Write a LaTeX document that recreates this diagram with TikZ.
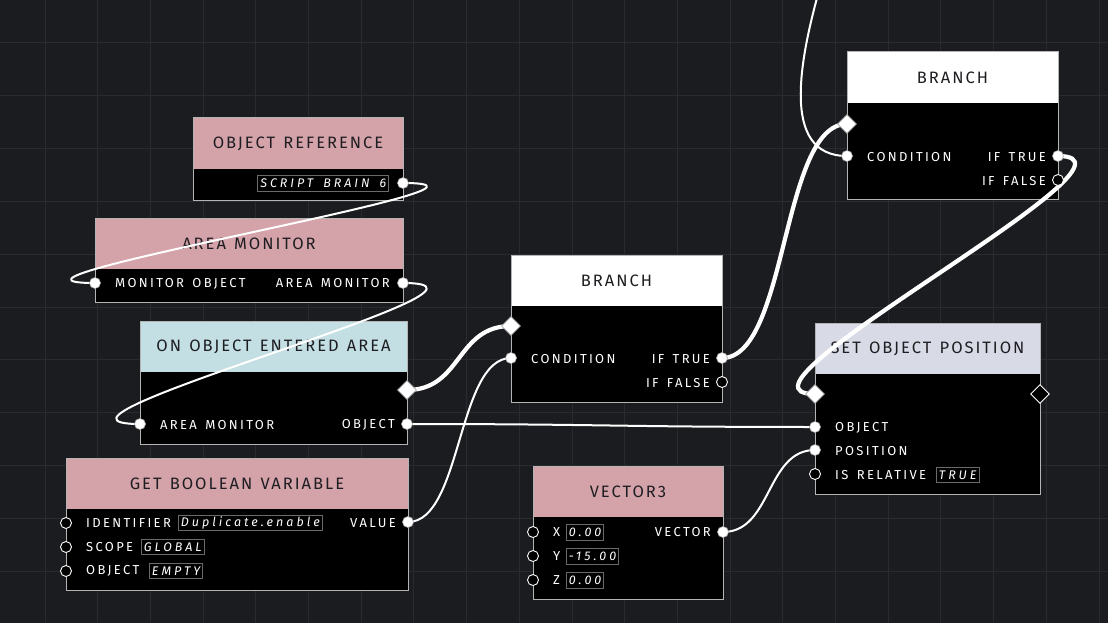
\documentclass[tikz,border=0pt]{standalone}
\usepackage{fontspec}
\setmainfont{Fira Sans}
\newfontfamily\titlefont{Fira Sans}[LetterSpace=12,WordSpace=1.3]
\newfontfamily\lblfont{Fira Sans}[LetterSpace=18,WordSpace=1.45]
\newfontfamily\valfont{Fira Sans Italic}[LetterSpace=24,WordSpace=1.6]
\usetikzlibrary{shapes.geometric}
\pgfdeclarelayer{boxes}
\pgfdeclarelayer{ports}
\pgfsetlayers{boxes,main,ports}
\definecolor{bgc}{HTML}{1B1C1F}
\definecolor{gridc}{HTML}{2A2B2F}
\definecolor{pinkh}{HTML}{D4A2A9}
\definecolor{blueh}{HTML}{C3DFE3}
\definecolor{lavh}{HTML}{D8DBE6}
\definecolor{framec}{HTML}{B4B4B4}
\definecolor{titlec}{HTML}{1E1E22}
\definecolor{valframe}{HTML}{6A6A6A}
\tikzset{
  body/.style={fill=black, anchor=north west, inner sep=0, outer sep=0},
  hdr/.style={fill=#1, anchor=north west, inner sep=0, outer sep=0, minimum height=51, text=titlec, font=\titlefont\fontsize{16.5}{16.5}\selectfont},
  frm/.style={draw=framec, line width=1},
  pinport/.style={circle, fill=white, draw=gray!70, line width=0.6, minimum size=11, inner sep=0},
  openport/.style={circle, fill=black, draw=white, line width=0.9, minimum size=11, inner sep=0},
  execin/.style={diamond, fill=white, draw=gray!70, line width=0.6, minimum size=19, inner sep=0},
  execopen/.style={diamond, fill=black, draw=white, line width=0.9, minimum size=19, inner sep=0},
  lbl/.style={text=white, font=\lblfont\fontsize{13}{13}\selectfont, inner sep=0},
  val/.style={draw=valframe, line width=0.8, text=white, font=\valfont\fontsize{12.5}{12.5}\selectfont, inner xsep=2.5, inner ysep=1.5, minimum height=15.5, anchor=west},
  wire/.style={white, line width=2},
  flow/.style={white, line width=4.2},
}
\begin{document}
\begin{tikzpicture}[x=1pt,y=-1pt]
\useasboundingbox (0,0) rectangle (1108,623);
\begin{pgfonlayer}{boxes}
\fill[bgc] (0,0) rectangle (1108,623);
\foreach \i in {0,...,20} {\draw[gridc, line width=1] (45+52.7*\i,0) -- (45+52.7*\i,623);}
\foreach \j in {0,...,11} {\draw[gridc, line width=1] (0,43+52.8*\j) -- (1108,43+52.8*\j);}
% Object reference
\node[body, minimum width=210, minimum height=82] (or) at (193,118) {};
\node[hdr=pinkh, minimum width=210] (orh) at (193,118) {OBJECT REFERENCE};
\draw[frm] (or.north west) rectangle (or.south east);
% Area monitor
\node[body, minimum width=308, minimum height=84] (am) at (95,218) {};
\node[hdr=pinkh, minimum width=308] (amh) at (95,218) {AREA MONITOR};
\draw[frm] (am.north west) rectangle (am.south east);
% On object entered area
\node[body, minimum width=267, minimum height=123] (oe) at (140,321) {};
\node[hdr=blueh, minimum width=267] (oeh) at (140,321) {ON OBJECT ENTERED AREA};
\draw[frm] (oe.north west) rectangle (oe.south east);
% Get boolean variable
\node[body, minimum width=342, minimum height=132] (gb) at (66,458) {};
\node[hdr=pinkh, minimum width=342] (gbh) at (66,458) {GET BOOLEAN VARIABLE};
\draw[frm] (gb.north west) rectangle (gb.south east);
% Branch 1
\node[body, minimum width=211, minimum height=147] (ba) at (511,255) {};
\node[hdr=white, minimum width=211] (bah) at (511,255) {BRANCH};
\draw[frm] (ba.north west) rectangle (ba.south east);
% Vector3
\node[body, minimum width=190, minimum height=133] (ve) at (533,466) {};
\node[hdr=pinkh, minimum width=190] (veh) at (533,466) {VECTOR3};
\draw[frm] (ve.north west) rectangle (ve.south east);
% Branch 2
\node[body, minimum width=211, minimum height=147] (bb) at (847,52) {};
\node[hdr=white, minimum width=211] (bbh) at (847,52) {BRANCH};
\draw[frm] (bb.north west) rectangle (bb.south east);
% Set object position
\node[body, minimum width=225, minimum height=171] (sp) at (815,323) {};
\node[hdr=lavh, minimum width=225] (sph) at (815,323) {SET OBJECT POSITION};
\draw[frm] (sp.north west) rectangle (sp.south east);

% labels
\node[val, anchor=east] (orv) at (389,183.5) {SCRIPT BRAIN 6};
\node[lbl, anchor=west] (amin) at (115,283.5) {MONITOR OBJECT};
\node[lbl, anchor=east] (amout) at (390,283.5) {AREA MONITOR};
\node[lbl, anchor=west] (oein) at (160,425) {AREA MONITOR};
\node[lbl, anchor=east] (oeout) at (395,425) {OBJECT};
\node[lbl, anchor=west] (gbid) at (86,523) {IDENTIFIER};
\node[val] (gbidv) at (178,523) {Duplicate.enable};
\node[lbl, anchor=east] (gbval) at (396,523) {VALUE};
\node[lbl, anchor=west] (gbsc) at (86,547) {SCOPE};
\node[val] (gbscv) at (141,547) {GLOBAL};
\node[lbl, anchor=west] (gbob) at (86,571) {OBJECT};
\node[val] (gbobv) at (149,571) {EMPTY};
\node[lbl, anchor=west] (bacond) at (531,359) {CONDITION};
\node[lbl, anchor=east] (batrue) at (710,359) {IF TRUE};
\node[lbl, anchor=east] (bafalse) at (710,383) {IF FALSE};
\node[lbl, anchor=west] (vex) at (553,532.5) {X};
\node[val] (vexv) at (566,532.5) {0.00};
\node[lbl, anchor=west] (vey) at (553,556.5) {Y};
\node[val] (veyv) at (566,556.5) {-15.00};
\node[lbl, anchor=west] (vez) at (553,580.5) {Z};
\node[val] (vezv) at (566,580.5) {0.00};
\node[lbl, anchor=east] (veout) at (711,532.5) {VECTOR};
\node[lbl, anchor=west] (bbcond) at (867,157) {CONDITION};
\node[lbl, anchor=east] (bbtrue) at (1046,157) {IF TRUE};
\node[lbl, anchor=east] (bbfalse) at (1046,181) {IF FALSE};
\node[lbl, anchor=west] (spobj) at (835,428) {OBJECT};
\node[lbl, anchor=west] (sppos) at (835,451) {POSITION};
\node[lbl, anchor=west] (sprel) at (835,475) {IS RELATIVE};
\node[val] (sprelv) at (936,475) {TRUE};
\end{pgfonlayer}

\begin{pgfonlayer}{ports}
\node[pinport] (p-or) at (403,183) {};
\node[pinport] (p-amin) at (95,283) {};
\node[pinport] (p-amout) at (403,283) {};
\node[execin] (x-oe) at (407,390) {};
\node[pinport] (p-oein) at (140,424) {};
\node[pinport] (p-oeout) at (407,424) {};
\node[openport] (p-gbid) at (66,523) {};
\node[openport] (p-gbsc) at (66,547) {};
\node[openport] (p-gbob) at (66,571) {};
\node[pinport] (p-gbval) at (408,522) {};
\node[execin] (x-ba) at (511,326) {};
\node[pinport] (p-bacond) at (511,358) {};
\node[pinport] (p-batrue) at (722,358) {};
\node[openport] (p-bafalse) at (722,382) {};
\node[openport] (p-vex) at (533,532) {};
\node[openport] (p-vey) at (533,556) {};
\node[openport] (p-vez) at (533,580) {};
\node[pinport] (p-veout) at (723,532) {};
\node[execin] (x-bb) at (847,124) {};
\node[pinport] (p-bbcond) at (847,156) {};
\node[pinport] (p-bbtrue) at (1058,156) {};
\node[openport] (p-bbfalse) at (1058,180) {};
\node[execin] (x-spin) at (815,394) {};
\node[execopen] (x-spout) at (1040,394) {};
\node[pinport] (p-spobj) at (815,427) {};
\node[pinport] (p-sppos) at (815,450) {};
\node[openport] (p-sprel) at (815,474) {};
\end{pgfonlayer}

\coordinate (offtop) at (825,-30);
\begin{scope}
\clip (0,0) rectangle (1108,623);
\draw[wire] (p-or.center) .. controls (553,183) and (-55,283) .. (p-amin.center);
\draw[wire] (p-amout.center) .. controls (545,283) and (-2,424) .. (p-oein.center);
\draw[flow] (x-oe.center) .. controls (462,390) and (456,326) .. (x-ba.center);
\draw[wire] (p-gbval.center) .. controls (462,522) and (457,358) .. (p-bacond.center);
\draw[wire] (p-oeout.center) .. controls (600,424) and (620,427) .. (p-spobj.center);
\draw[flow] (p-batrue.center) .. controls (788,358) and (781,124) .. (x-bb.center);
\draw[wire] (offtop) .. controls (798,60) and (780,156) .. (p-bbcond.center);
\draw[flow] (p-bbtrue.center) .. controls (1168,156) and (705,394) .. (x-spin.center);
\draw[wire] (p-veout.center) .. controls (772,532) and (766,450) .. (p-sppos.center);
\end{scope}
\end{tikzpicture}
\end{document}
